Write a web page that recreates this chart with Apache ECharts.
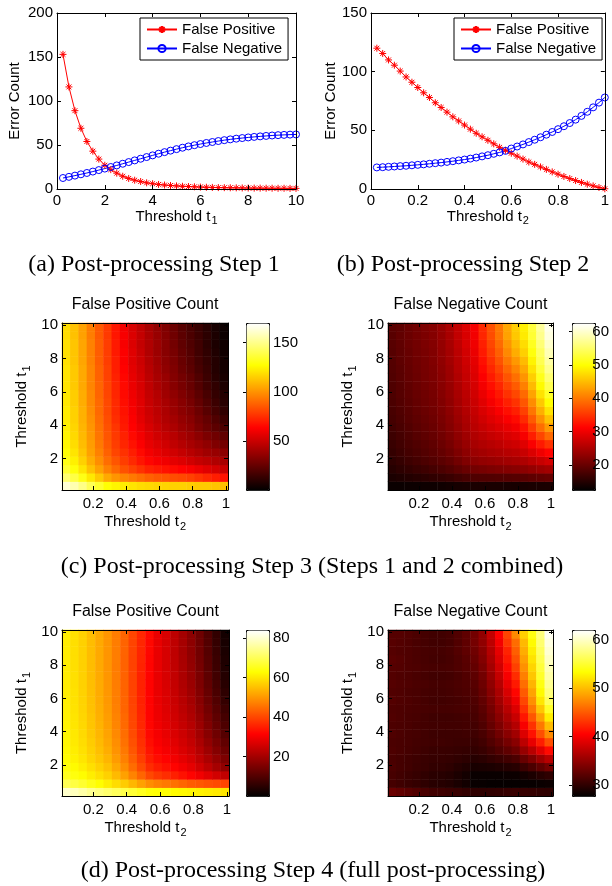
<!DOCTYPE html>
<html><head><meta charset="utf-8">
<script src="https://cdn.jsdelivr.net/npm/echarts@6/dist/echarts.min.js"></script>
<style>html,body{margin:0;padding:0;background:#fff}#c{width:612px;height:886px}</style>
</head><body><div id="c"></div>
<script>
// ---------- DATA ----------
const t1Values = [0.25,0.5,0.75,1,1.25,1.5,1.75,2,2.25,2.5,2.75,3,3.25,3.5,3.75,4,4.25,4.5,4.75,5,5.25,5.5,5.75,6,6.25,6.5,6.75,7,7.25,7.5,7.75,8,8.25,8.5,8.75,9,9.25,9.5,9.75,10];
const fpStep1 = [153,116,89,69,54,43,34,27,22,18,14.5,12,10,8.5,7,6,5.2,4.5,4,3.5,3.1,2.8,2.5,2.2,2,1.8,1.6,1.5,1.4,1.3,1.2,1.1,1,1,0.9,0.9,0.8,0.8,0.7,0.7];
const fnStep1 = [12.5,13.8,15.2,16.7,18.2,19.8,21.5,23.2,25,26.8,28.7,30.6,32.5,34.4,36.3,38.2,40.1,41.9,43.6,45.3,46.9,48.4,49.8,51.1,52.3,53.4,54.5,55.5,56.4,57.2,57.9,58.6,59.2,59.8,60.3,60.8,61.2,61.5,61.8,62];

const t2Values = [0.025,0.05,0.075,0.1,0.125,0.15,0.175,0.2,0.225,0.25,0.275,0.3,0.325,0.35,0.375,0.4,0.425,0.45,0.475,0.5,0.525,0.55,0.575,0.6,0.625,0.65,0.675,0.7,0.725,0.75,0.775,0.8,0.825,0.85,0.875,0.9,0.925,0.95,0.975,1];
const fpStep2 = [120,115.5,110,105.5,100.5,95.5,91,86.5,82,78,73.5,69.5,65.5,61.5,58,54.5,51,47.5,44.5,41.5,38.5,35.5,33,30.5,28,25.5,23,21,18.8,16.7,14.6,12.6,10.7,8.9,7.2,5.6,4.1,2.7,1.3,0.2];
const fnStep2 = [18.4,18.6,18.9,19.2,19.5,19.8,20.2,20.6,21,21.5,22,22.5,23.1,23.7,24.4,25.1,25.9,26.8,27.8,28.8,30,31.2,32.5,34.5,36.2,38,40,42,44.1,46.3,48.6,51,53.5,56.2,59.1,62.3,65.8,69.6,73.6,78];

// heatmap cell centres (columns: threshold t2, rows: threshold t1, bottom row first)
const heatT2 = ['0.0375','0.0875','0.1375','0.1875','0.2375','0.2875','0.3375','0.3875','0.4375','0.4875','0.5375','0.5875','0.6375','0.6875','0.7375','0.7875','0.8375','0.8875','0.9375','0.9875'];
const heatT1 = ['0.375','0.875','1.375','1.875','2.375','2.875','3.375','3.875','4.375','4.875','5.375','5.875','6.375','6.875','7.375','7.875','8.375','8.875','9.375','9.875'];

const fpStep3 = [
[163,157,150,142,135,128,125,123,121,119,118,117,117,116,116,115,114,114,113,112],
[146,139,131,122,114,106,101,97,94,91,88,86,85,83,82,80,77,74,71,68],
[136,129,121,112,104,96,90,84,80,76,72,70,68,66,64,62,59,56,53,50],
[131,124,116,107,99,91,85,79,74,69,65,62,60,57,55,52,49,47,44,42],
[128,121,113,104,96,88,81,76,71,66,61,58,55,52,49,46,43,40,38,35],
[126,119,111,103,94,86,79,73,68,63,58,55,52,48,45,42,39,36,32,29],
[125,118,110,102,93,85,78,72,66,61,56,52,49,46,42,39,35,31,28,24],
[124,117,109,101,92,84,77,70,64,59,54,50,46,43,39,36,31,27,23,19],
[123,116,108,100,91,83,75,69,63,57,52,48,44,41,37,34,29,25,20,15],
[123,116,108,99,90,82,74,68,62,56,51,47,43,39,35,32,27,22,17,12],
[122,115,107,98,90,82,74,67,61,56,50,46,42,38,34,30,25,20,15,10],
[122,115,107,98,89,81,73,66,60,55,49,45,40,36,32,28,23,18,13,9],
[121,114,106,97,89,81,73,66,59,54,48,43,39,34,30,26,21,16,12,7],
[121,114,106,97,88,80,72,65,58,53,47,42,38,33,29,25,20,15,10,6],
[121,114,106,97,88,80,71,64,57,52,46,41,36,32,27,23,18,14,9,5],
[120,113,105,96,87,79,71,63,56,51,45,40,35,31,26,22,17,13,9,5],
[120,113,105,96,87,79,70,63,56,50,44,39,34,30,25,21,16,12,8,4],
[120,113,105,96,87,79,70,62,55,49,44,39,34,29,24,20,16,11,7,4],
[119,112,104,95,86,78,69,62,55,49,43,38,33,28,23,19,15,11,7,3],
[119,112,104,95,86,78,69,61,54,48,42,37,32,27,22,18,14,10,6,3]
];

const fnStep3 = [
[13.3,13.3,13.4,13.4,13.5,13.5,13.7,13.9,14.1,14.3,14.5,14.5,14.4,14.4,14.3,14.2,14.3,14.4,14.4,14.5],
[14.5,14.8,15.1,15.4,15.7,16,16.3,16.7,17.3,17.8,18.3,18.4,18.5,18.6,18.7,18.8,19,19.4,19.7,20],
[15.3,15.8,16.2,16.7,17.1,17.6,18.1,18.7,19.5,20.2,21,21.3,21.6,21.9,22.2,22.5,22.8,23.4,24,24.5],
[15.9,16.4,17,17.5,18.1,18.6,19.2,19.9,20.9,21.9,22.8,23.3,23.6,24,24.4,24.8,25.3,26.2,27.1,28],
[16.3,16.9,17.5,18,18.6,19.2,19.9,20.7,21.8,22.9,24,24.5,25,25.4,25.9,26.3,27.2,28.6,30.1,31.5],
[16.7,17.3,17.9,18.4,19,19.6,20.4,21.3,22.5,23.6,24.8,25.5,26,26.5,27.2,27.7,28.9,30.9,33.1,35],
[17,17.6,18.2,18.8,19.4,20,20.8,21.8,23,24.2,25.5,26.3,27,27.6,28.4,29,30.7,33.4,36.4,39],
[17.3,17.9,18.5,19.1,19.7,20.3,21.2,22.2,23.5,24.8,26.1,27.1,28,28.8,29.7,30.5,32.5,35.8,39.4,42.5],
[17.6,18.2,18.8,19.4,20,20.6,21.5,22.5,23.9,25.2,26.6,27.8,28.9,29.8,31,32,34.3,37.9,41.9,45.5],
[17.8,18.4,19,19.7,20.3,20.9,21.8,22.9,24.3,25.6,27,28.5,29.7,30.9,32.3,33.5,36,39.9,44.2,48],
[18,18.6,19.2,19.9,20.5,21.1,22,23.1,24.6,26,27.4,29.1,30.6,32,33.6,35,37.6,41.6,46.1,50],
[18.2,18.8,19.4,20.1,20.7,21.3,22.3,23.4,24.9,26.3,27.8,29.8,31.5,33,34.9,36.5,39.1,43.3,48,52],
[18.3,18.9,19.6,20.2,20.9,21.5,22.5,23.6,25.2,26.7,28.2,30.5,32.3,34,36.2,38,40.7,45,49.8,54],
[18.5,19.1,19.8,20.4,21.1,21.7,22.7,23.9,25.5,27,28.6,31.1,33.2,35.1,37.5,39.5,42.2,46.5,51.3,55.5],
[18.6,19.2,19.9,20.5,21.2,21.8,22.9,24.1,25.8,27.3,29,31.8,34.1,36.2,38.8,41,43.7,48,52.8,57],
[18.7,19.4,20,20.7,21.3,22,23.1,24.4,26,27.7,29.4,32.4,34.9,37.3,40.1,42.5,45.1,49.3,54,58],
[18.8,19.5,20.1,20.8,21.4,22.1,23.3,24.6,26.3,28,29.8,33.1,35.8,38.3,41.4,44,46.6,50.6,54.7,59],
[19,19.6,20.3,20.9,21.6,22.2,23.4,24.8,26.6,28.4,30.2,33.6,36.4,39.1,42.3,45,47.6,51.6,55.8,60],
[19,19.7,20.3,21,21.6,22.3,23.5,24.9,26.8,28.5,30.4,34,36.9,39.8,43.2,46,48.6,52.6,56.9,61],
[19.1,19.4,20.2,20.9,21.7,22.4,23.6,25,26.9,28.7,30.6,34.2,37.2,40.1,43.5,46.4,49,53,57.5,61.5]
];

const fpStep4 = [
[80,78.7,77,75.1,73.5,72,70.6,69.2,67.5,65.7,64,63.5,63.2,62.8,62.4,62,61.5,61,60.5,60],
[70,68.6,67,65,63,61,59,56.8,54.2,51.5,49,47.6,46.6,45.4,44.2,43,42.3,41.5,40.8,40],
[65.5,64.2,62.9,61.1,59.3,57.5,54.6,51.5,47.8,44.1,40.5,38.5,37.1,35.4,33.7,32,30,28,26,24],
[64,62.6,61.2,59.3,57.4,55.5,52.4,49,45,40.9,37,35,33.6,31.9,30.2,28.5,25.9,23.3,20.6,18],
[63,61.6,60,58,56.1,54,50.8,47.4,43.3,39.3,35.2,33.1,31.8,30.1,28.3,26.6,23.8,21.1,18.3,15.5],
[62.5,61,59.4,57.3,55.2,53,49.8,46.4,42.2,38,34,31.9,30.5,28.8,27,25.3,22.4,19.4,16.5,13.5],
[62.2,60.6,59,56.8,54.6,52.3,49.1,45.6,41.5,37.4,33.2,31,29.6,27.8,26,24.2,21.2,18.1,15.1,12],
[62,60.4,58.6,56.4,54.1,51.8,48.5,45.1,40.9,36.8,32.6,30.4,28.9,27,25.2,23.3,20.1,16.9,13.7,10.5],
[61.8,60.1,58.3,56,53.7,51.3,48.1,44.6,40.4,36.4,32.2,29.9,28.3,26.4,24.4,22.5,19.3,16,12.8,9.5],
[61.6,59.9,58.1,55.8,53.4,51,47.8,44.4,40.2,36.2,32,29.5,27.9,25.8,23.8,21.7,18.4,15.1,11.8,8.5],
[61.4,59.7,57.8,55.5,53.1,50.6,47.4,44,40,35.9,31.9,29.3,27.5,25.4,23.2,21,17.6,14.3,10.9,7.5],
[61.3,59.6,57.7,55.3,52.9,50.4,47.2,43.9,39.8,35.7,31.8,29,27.2,24.9,22.6,20.3,16.9,13.4,10,6.5],
[61.2,59.5,57.6,55.2,52.8,50.3,47.2,43.8,39.8,35.7,31.8,28.9,27,24.5,22.1,19.7,16.2,12.7,9.2,5.7],
[61,59.3,57.4,55.1,52.7,50.2,47.1,43.8,39.7,35.7,31.8,28.8,26.8,24.3,21.7,19.2,15.6,12.1,8.6,5],
[61,59.3,57.4,55,52.6,50.1,47,43.7,39.7,35.7,31.9,28.7,26.6,24,21.3,18.7,15.2,11.6,8.1,4.5],
[61,59.2,57.4,55,52.5,50,46.9,43.7,39.7,35.8,32,28.7,26.5,23.8,21,18.3,14.7,11.2,7.6,4],
[61,59.2,57.4,55,52.5,50,47,43.7,39.8,36,32.1,28.7,26.5,23.7,20.8,18,14.4,10.9,7.3,3.7],
[61,59.2,57.4,55,52.5,50,47,43.8,39.9,36.1,32.3,28.8,26.5,23.5,20.6,17.7,14.1,10.5,6.9,3.3],
[61,59.2,57.4,55,52.5,50,47,43.8,40,36.3,32.5,28.9,26.5,23.5,20.5,17.5,13.9,10.3,6.6,3],
[61.1,59.3,57.4,55,52.5,50,47,43.9,40.1,36.4,32.7,29,26.6,23.5,20.4,17.3,13.6,9.9,6.2,2.5]
];

const fnStep4 = [
[33,32.6,32.2,31.8,31.4,31,30.9,30.7,30.5,30.2,30,30,30.1,30.2,30.4,30.5,30.4,30.3,30.1,30],
[31.2,30.9,30.6,30.3,30,29.7,29.6,29.4,29,28.6,28.1,28.1,28,28,28,28,28.1,28.1,28.2,28.3],
[31.3,31,30.7,30.4,30.1,29.8,29.7,29.5,29.1,28.7,28.2,28.2,28.2,28.2,28.3,28.3,28.7,29.1,29.6,30],
[31.5,31.2,31,30.7,30.5,30.2,30.2,30,29.6,29.3,28.9,29,29.1,29.3,29.5,29.7,30.7,31.5,32.5,33.5],
[31.4,31.2,31,30.8,30.6,30.4,30.4,30.3,30.1,29.9,29.6,29.8,30.2,30.6,31,31.5,32.9,34.1,35.6,37],
[31.6,31.4,31.2,31,30.8,30.6,30.6,30.5,30.4,30.3,30.2,30.5,31.1,31.8,32.5,33.3,35.3,37,39,41],
[31.5,31.4,31.3,31.1,31,30.9,30.9,30.8,30.7,30.7,30.6,31,31.8,32.6,33.6,34.6,37.2,39.4,42,44.5],
[31.7,31.5,31.3,31.2,31,30.8,30.8,30.8,30.8,30.9,30.9,31.4,32.3,33.4,34.6,35.8,38.8,41.4,44.5,47.5],
[31.6,31.5,31.4,31.2,31.1,31,31,31,31,31.1,31.1,31.7,32.8,34,35.4,36.8,40.2,43.1,46.6,50],
[31.8,31.6,31.4,31.3,31.1,30.9,30.9,30.9,31,31.1,31.3,32,33.2,34.6,36.2,37.8,41.6,44.9,48.7,52.5],
[31.7,31.6,31.5,31.4,31.3,31.2,31.2,31.2,31.3,31.4,31.5,32.3,33.6,35.2,37,38.8,43,46.5,50.6,54.8],
[31.9,31.7,31.6,31.4,31.2,31,31,31.1,31.2,31.4,31.7,32.6,34,35.8,37.8,39.8,44.1,47.8,52.2,56.5],
[31.8,31.7,31.5,31.4,31.2,31.1,31.1,31.2,31.4,31.6,31.9,32.9,34.5,36.3,38.6,40.8,45.1,48.8,53.2,57.5],
[32,31.8,31.7,31.5,31.4,31.2,31.2,31.3,31.5,31.7,32.1,33.2,34.9,36.9,39.4,41.8,46.1,49.7,54,58.3],
[31.9,31.7,31.6,31.4,31.2,31,31,31.1,31.4,31.8,32.4,33.5,35.4,37.6,40.2,42.8,47,50.6,54.8,59],
[32,31.9,31.7,31.6,31.4,31.3,31.3,31.4,31.7,32.1,32.7,33.9,35.9,38.2,41,43.8,47.9,51.3,55.4,59.5],
[32.2,32,31.7,31.5,31.3,31.1,31.1,31.3,31.7,32.2,33,34.3,36.4,38.8,41.7,44.6,48.6,52,56,60],
[32,31.8,31.7,31.5,31.3,31.2,31.2,31.4,31.9,32.5,33.3,34.6,36.8,39.3,42.3,45.3,49.3,52.6,56.5,60.5],
[32.1,31.9,31.7,31.4,31.2,31,31,31.2,31.8,32.5,33.6,35,37.2,40,43.3,46,49.9,53.2,57.1,61],
[32,32,31.8,31.5,31.2,31,31,31.2,31.8,32.5,33.5,35,37.5,40.5,44,47.5,51,54,57.5,61.5]
];

// tick labels
const step1XTicks = [0,2,4,6,8,10];
const step1YTicks = [0,50,100,150,200];
const step2XTicks = [0,0.2,0.4,0.6,0.8,1];
const step2YTicks = [0,50,100,150];
const heatXTicks = [0.2,0.4,0.6,0.8,1];
const heatYTicks = [2,4,6,8,10];
const cbTicksFP3 = [50,100,150];
const cbTicksFN3 = [20,30,40,50,60];
const cbTicksFP4 = [20,40,60,80];
const cbTicksFN4 = [30,40,50,60];

// ---------- CHART ----------
const FONT = '"Liberation Sans", Arial, Helvetica, sans-serif';
const SERIF = '"Liberation Serif", "Times New Roman", serif';
const HOT = ['#000000','#550000','#aa0000','#ff0000','#ff5500','#ffaa00','#ffff00','#ffff80','#ffffff'];
const ASTER = 'path://M5,0L5,10M0,5L10,5M1.5,1.5L8.5,8.5M1.5,8.5L8.5,1.5';
const RING = 'path://M10,5A5,5,0,1,1,0,5A5,5,0,1,1,10,5Z';

const grids = [], xAxes = [], yAxes = [], series = [], visualMaps = [], graphics = [];
const lbl = {color:'#000', fontFamily:FONT, fontSize:15};
function nameStyle(){
  return {color:'#000', fontFamily:FONT, fontSize:15,
    rich:{sub:{color:'#000', fontFamily:FONT, fontSize:11, padding:[10,0,0,1]}}};
}
const tick = (custom) => ({show:true, inside:true, length:4, lineStyle:{color:'#000', width:1}, customValues:custom});
const line = {show:true, onZero:false, lineStyle:{color:'#000', width:1}};

function addBox(rect, x, y){
  grids.push(Object.assign({}, rect));
  const g = grids.length - 1;
  const xi = xAxes.length, yi = yAxes.length;
  xAxes.push({gridIndex:g, type:'value', position:'bottom', min:x.min, max:x.max, interval:x.interval,
    axisLine:line, axisTick:tick(x.ticks), splitLine:{show:false},
    axisLabel:Object.assign({margin:x.margin, customValues:x.ticks}, lbl),
    name:x.name, nameLocation:'middle', nameGap:x.nameGap, nameTextStyle:nameStyle(), z:5});
  xAxes.push({gridIndex:g, type:'value', position:'top', min:x.min, max:x.max, interval:x.interval,
    axisLine:line, axisTick:tick(x.ticks), axisLabel:{show:false}, splitLine:{show:false}, z:5});
  yAxes.push({gridIndex:g, type:'value', position:'left', min:y.min, max:y.max, interval:y.interval,
    axisLine:line, axisTick:tick(y.ticks), splitLine:{show:false},
    axisLabel:Object.assign({margin:y.margin, customValues:y.ticks}, lbl),
    name:y.name, nameLocation:'middle', nameGap:y.nameGap, nameRotate:90, nameTextStyle:nameStyle(), z:5});
  yAxes.push({gridIndex:g, type:'value', position:'right', min:y.min, max:y.max, interval:y.interval,
    axisLine:line, axisTick:tick(y.ticks), axisLabel:{show:false}, splitLine:{show:false}, z:5});
  return {xi, yi};
}

function addLines(ax, xs, fp, fn){
  series.push({type:'line', name:'False Positive', xAxisIndex:ax.xi, yAxisIndex:ax.yi,
    data: xs.map((x,i)=>[x, fp[i]]), symbol:ASTER, symbolSize:7, showAllSymbol:true,
    lineStyle:{color:'#ff0000', width:1}, itemStyle:{color:'#ff0000', borderColor:'#ff0000', borderWidth:1},
    emphasis:{disabled:true}});
  series.push({type:'line', name:'False Negative', xAxisIndex:ax.xi, yAxisIndex:ax.yi,
    data: xs.map((x,i)=>[x, fn[i]]), symbol:RING, symbolSize:7, showAllSymbol:true,
    lineStyle:{color:'#0000ff', width:1}, itemStyle:{color:'rgba(0,0,0,0)', borderColor:'#0000ff', borderWidth:1},
    emphasis:{disabled:true}});
}

// (a)
const axA = addBox({left:57, top:13, width:239, height:176},
  {min:0, max:10, interval:2, ticks:step1XTicks, margin:4, name:'Threshold t{sub|1}', nameGap:9},
  {min:0, max:200, interval:50, ticks:step1YTicks, margin:4, name:'Error Count', nameGap:35});
addLines(axA, t1Values, fpStep1, fnStep1);
// (b)
const axB = addBox({left:371, top:13, width:240, height:176},
  {min:0, max:1, interval:0.2, ticks:step2XTicks, margin:4, name:'Threshold t{sub|2}', nameGap:9},
  {min:0, max:150, interval:50, ticks:step2YTicks, margin:4, name:'Error Count', nameGap:31});
addLines(axB, t2Values, fpStep2, fnStep2);

function heatPanel(rect, matrix, vmin, vmax, cbLeft, cbTicks, title, titleY){
  grids.push(Object.assign({}, rect));
  const g = grids.length - 1;
  const xi = xAxes.length, yi = yAxes.length;
  xAxes.push({gridIndex:g, type:'category', data:heatT2, show:false});
  yAxes.push({gridIndex:g, type:'category', data:heatT1, show:false});
  const data = [];
  matrix.forEach((row, r) => row.forEach((v, c) => data.push([c, r, v])));
  series.push({type:'heatmap', xAxisIndex:xi, yAxisIndex:yi, data, progressive:0,
    emphasis:{disabled:true}, itemStyle:{borderWidth:0}});
  const si = series.length - 1;
  addBox(rect,
    {min:0.0125, max:1.0125, ticks:heatXTicks, margin:6, name:'Threshold t{sub|2}', nameGap:21},
    {min:0.125, max:10.125, ticks:heatYTicks, margin:4, name:'Threshold t{sub|1}', nameGap:30});
  visualMaps.push({type:'continuous', seriesIndex:si, min:vmin, max:vmax, calculable:false,
    inRange:{color:HOT}, left:cbLeft, top:rect.top, itemWidth:23, itemHeight:rect.height,
    padding:0, borderColor:'#000', borderWidth:1, text:null, hoverLink:false});
  grids.push({left:cbLeft, top:rect.top, width:23, height:rect.height});
  const cg = grids.length - 1;
  xAxes.push({gridIndex:cg, type:'value', show:false, min:0, max:1});
  yAxes.push({gridIndex:cg, type:'value', position:'right', min:vmin, max:vmax,
    axisLine:{show:false}, splitLine:{show:false},
    axisTick:{show:true, inside:true, length:3, lineStyle:{color:'#000'}, customValues:cbTicks},
    axisLabel:Object.assign({margin:4, customValues:cbTicks}, lbl), z:6});
  graphics.push({type:'text', x:rect.left + rect.width/2, y:titleY,
    style:{text:title, fill:'#000', font:'16px ' + FONT, textAlign:'center', textVerticalAlign:'middle'}});
}

heatPanel({left:62, top:323, width:166, height:167}, fpStep3, 0, 170, 246, cbTicksFP3, 'False Positive Count', 305);
heatPanel({left:388, top:323, width:165, height:167}, fnStep3, 12.5, 62.6, 572, cbTicksFN3, 'False Negative Count', 305);
heatPanel({left:62, top:630, width:167, height:166}, fpStep4, 0, 84.2, 246, cbTicksFP4, 'False Positive Count', 612);
heatPanel({left:388, top:630, width:165, height:166}, fnStep4, 27.7, 62, 572, cbTicksFN4, 'False Negative Count', 612);

// captions
[['(a) Post-processing Step 1', 154, 265],
 ['(b) Post-processing Step 2', 463, 265],
 ['(c) Post-processing Step 3 (Steps 1 and 2 combined)', 312, 567],
 ['(d) Post-processing Step 4 (full post-processing)', 313, 871]].forEach(([t, x, y]) => {
  graphics.push({type:'text', x, y, style:{text:t, fill:'#000', font:'24px ' + SERIF, textAlign:'center', textVerticalAlign:'middle'}});
});

const legendBase = {orient:'vertical', data:['False Positive','False Negative'], borderColor:'#000', borderWidth:1,
  padding:[4,6,4,6], itemGap:4, itemWidth:30, itemHeight:9, backgroundColor:'#fff',
  textStyle:{color:'#000', fontFamily:FONT, fontSize:15}, selectedMode:false};

const chart = echarts.init(document.getElementById('c'), null, {renderer:'canvas'});
chart.setOption({
  animation:false,
  backgroundColor:'#fff',
  grid:grids, xAxis:xAxes, yAxis:yAxes, series, visualMap:visualMaps,
  legend:[Object.assign({left:140, top:18}, legendBase), Object.assign({left:454, top:18}, legendBase)],
  graphic:graphics
});
</script></body></html>
